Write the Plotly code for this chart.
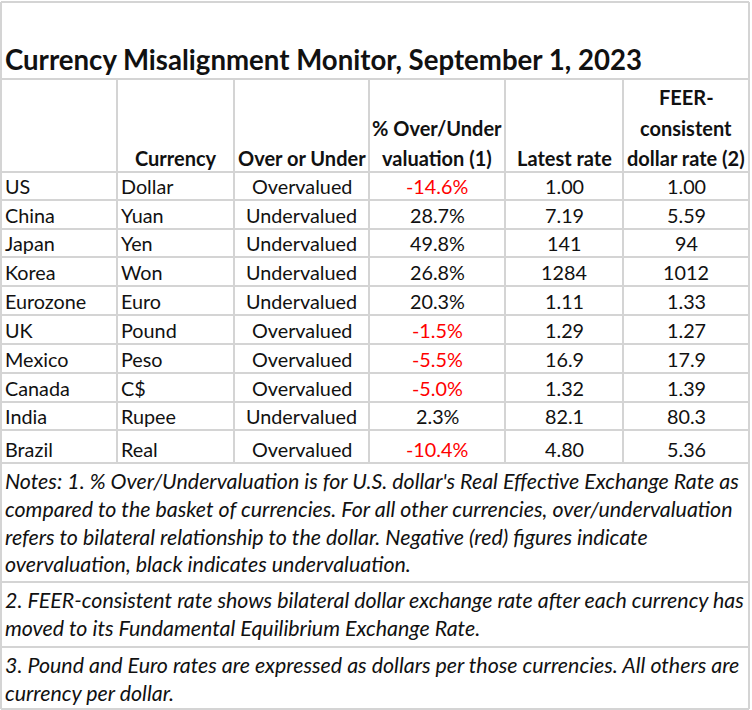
import plotly.graph_objects as go

title = "Currency Misalignment Monitor, September 1, 2023"

countries = ["US", "China", "Japan", "Korea", "Eurozone", "UK", "Mexico", "Canada", "India", "Brazil"]
currencies = ["Dollar", "Yuan", "Yen", "Won", "Euro", "Pound", "Peso", "C$", "Rupee", "Real"]
over_under = ["Overvalued", "Undervalued", "Undervalued", "Undervalued", "Undervalued",
              "Overvalued", "Overvalued", "Overvalued", "Undervalued", "Overvalued"]
pct_misalign = [-14.6, 28.7, 49.8, 26.8, 20.3, -1.5, -5.5, -5.0, 2.3, -10.4]
latest_rate = ["1.00", "7.19", "141", "1284", "1.11", "1.29", "16.9", "1.32", "82.1", "4.80"]
feer_rate = ["1.00", "5.59", "94", "1012", "1.33", "1.27", "17.9", "1.39", "80.3", "5.36"]

headers = [[""], ["Currency"], ["Over or Under"], ["% Over/Under", "valuation (1)"],
           ["Latest rate"], ["FEER-", "consistent", "dollar rate (2)"]]

notes = [
    ["Notes: 1. % Over/Undervaluation is for U.S. dollar's Real Effective Exchange Rate as",
     "compared to the basket of currencies. For all other currencies, over/undervaluation",
     "refers to bilateral relationship to the dollar. Negative (red) figures indicate",
     "overvaluation, black indicates undervaluation."],
    ["2. FEER-consistent rate shows bilateral dollar exchange rate after each currency has",
     "moved to its Fundamental Equilibrium Exchange Rate."],
    ["3. Pound and Euro rates are expressed as dollars per those currencies. All others are",
     "currency per dollar."],
]

# sheet geometry (pixels)
W, H = 752, 710
col_x = [1, 117, 234, 369, 505, 623, 749]
title_bottom = 79
row_y = [172, 200, 229, 257, 286, 315, 344, 373, 402, 430, 463]
note_y = [463, 582, 647, 709]
grid = "#d4d4d4"
font = "Lato"
fs = 19.8
ink = "#111111"

fig = go.Figure()
shapes = []


def hline(y, x0=col_x[0], x1=col_x[-1]):
    shapes.append(dict(type="line", x0=x0, x1=x1, y0=y, y1=y, line=dict(color=grid, width=2)))


def vline(x, y0, y1):
    shapes.append(dict(type="line", x0=x, x1=x, y0=y0, y1=y1, line=dict(color=grid, width=2)))


for y in [2, title_bottom] + row_y + note_y[1:]:
    hline(y)
vline(col_x[0], 2, H - 1)
vline(col_x[-1], 2, H - 1)
for x in col_x[1:-1]:
    vline(x, title_bottom, row_y[-1])

ann = []


def text(x, y, s, anchor="center", color=ink, size=fs, bold=False, italic=False):
    if bold:
        s = "<b>" + s + "</b>"
    if italic:
        s = "<i>" + s + "</i>"
    ann.append(dict(x=x, y=y, text=s, xanchor=anchor, yanchor="middle", showarrow=False,
                    font=dict(family=font, size=size, color=color)))


text(3, 59, title, anchor="left", size=27.6, bold=True)

# headers, bottom aligned
line_h = 30.5
for i, lines in enumerate(headers):
    cx = (col_x[i] + col_x[i + 1]) / 2
    for k, s in enumerate(reversed(lines)):
        text(cx, 158 - k * line_h, s, bold=True, size=20)

for r in range(len(countries)):
    cy = (row_y[r] + row_y[r + 1]) / 2
    if r == len(countries) - 1:
        cy += 2
    text(col_x[0] + 2, cy, countries[r], anchor="left")
    text(col_x[1] + 2, cy, currencies[r], anchor="left")
    text((col_x[2] + col_x[3]) / 2, cy, over_under[r])
    v = pct_misalign[r]
    text((col_x[3] + col_x[4]) / 2, cy, f"{v:.1f}%", color="#ff0000" if v < 0 else ink)
    text((col_x[4] + col_x[5]) / 2, cy, latest_rate[r])
    text((col_x[5] + col_x[6]) / 2, cy, feer_rate[r])

note_line_h = 27.8
for j, block in enumerate(notes):
    top = note_y[j]
    for k, s in enumerate(block):
        text(col_x[0] + 2, top + 18 + k * note_line_h, s, anchor="left", italic=True, size=21.4)

fig.update_layout(
    width=W, height=H, margin=dict(l=0, r=0, t=0, b=0),
    paper_bgcolor="white", plot_bgcolor="white",
    xaxis=dict(range=[0, W], visible=False, fixedrange=True),
    yaxis=dict(range=[H, 0], visible=False, fixedrange=True),
    shapes=shapes, annotations=ann, showlegend=False,
)

fig.write_html("out.html", config={"displayModeBar": False},
               post_script="document.body.style.margin = '0px';")
